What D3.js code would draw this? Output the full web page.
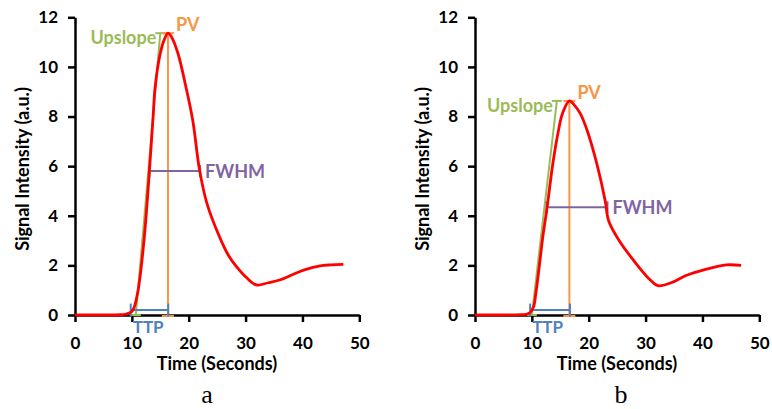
<html>
<head>
<script src="https://d3js.org/d3.v7.min.js"></script>
<style>
  body { margin: 0; background: #fff; }
  .tick text { font-family: Lato, sans-serif; font-weight: bold; font-size: 17px; fill: #000; }
  .title { font-family: Lato, sans-serif; font-weight: bold; font-size: 18px; fill: #000; }
  .note { font-family: Lato, sans-serif; font-weight: bold; font-size: 18px; }
  .caption { font-family: 'Liberation Serif', 'DejaVu Serif', serif; font-size: 26px; fill: #000; }
</style>
</head>
<body>
<svg id="chart" width="772" height="409"></svg>
<script>
// signal curves (time in seconds, signal in a.u.)
const timeA   = [0, 4, 8, 9, 9.5, 10, 10.4, 10.8, 11.2, 12.2, 13.1, 13.7, 14.1, 15.0, 15.7, 16.35, 17.0, 18.1, 19.5, 20.7, 21.9, 23.2, 25.4, 27.0, 28.4, 30.2, 31.9, 34.0, 36.0, 38.0, 40.2, 43.1, 45.0, 47.2];
const signalA = [0, 0, 0.01, 0.04, 0.08, 0.14, 0.3, 0.65, 1.14, 3.16, 5.85, 7.86, 9.2, 10.55, 11.1, 11.36, 11.2, 10.55, 9.2, 7.86, 5.85, 4.5, 3.16, 2.4, 1.95, 1.5, 1.21, 1.3, 1.41, 1.6, 1.81, 1.98, 2.02, 2.04];

const timeB   = [0, 4, 8, 9, 9.7, 10.3, 10.7, 11.3, 11.9, 12.7, 13.7, 14.7, 15.4, 16.6, 17.5, 18.5, 19.7, 21.4, 22.9, 23.5, 25.4, 28.0, 30.7, 32.2, 34.5, 37.1, 40.7, 44.2, 46.8];
const signalB = [0, 0, 0.01, 0.03, 0.1, 0.33, 0.87, 1.95, 3.1, 4.37, 6.12, 7.46, 8.13, 8.63, 8.45, 8.13, 7.46, 6.12, 4.6, 3.8, 2.98, 2.17, 1.44, 1.18, 1.3, 1.59, 1.85, 2.02, 2.0];

const xTicks = [0, 10, 20, 30, 40, 50];
const yTicks = [0, 2, 4, 6, 8, 10, 12];

// annotation marks: upslope [t0, v0, t1, v1], peak [t, v], ttp [t0, t1, v], fwhm [t0, t1, v]
const upslopeA = [10.7, 0, 15.0, 11.36];
const peakA    = [16.35, 11.36];
const ttpA     = [9.8, 16.4, 0.2];
const fwhmA    = [13.1, 22.0, 5.8];

const upslopeB = [10.0, 0, 14.4, 8.63];
const peakB    = [16.6, 8.63];
const ttpB     = [9.7, 16.7, 0.2];
const fwhmB    = [12.6, 23.3, 4.34];

const captions = ['a', 'b'];

const svg = d3.select('#chart');
const red = '#ff0000', green = '#9bbb59', orange = '#f79646', purple = '#8064a2', blue = '#4f81bd';

function drawPanel(left, capX, label, times, signal, upslope, peak, ttp, fwhm) {
  const x = d3.scaleLinear().domain([0, 50]).range([left, left + 284.3]);
  const y = d3.scaleLinear().domain([0, 12]).range([315, 17.3]);
  const g = svg.append('g');

  // axes
  g.append('g')
    .attr('transform', 'translate(' + left + ',0)')
    .call(d3.axisLeft(y).tickValues(yTicks).tickSize(7).tickSizeOuter(0).tickPadding(10));
  g.append('g')
    .attr('transform', 'translate(0,315)')
    .call(d3.axisBottom(x).tickValues(xTicks).tickSize(7).tickSizeOuter(0).tickPadding(15));
  g.selectAll('.domain, .tick line').attr('stroke', '#000').attr('stroke-width', 2.5);
  g.selectAll('.tick text').attr('font-family', null).attr('font-size', null);

  // axis titles
  g.append('text').attr('class', 'title')
    .attr('transform', 'translate(' + (left - 46) + ',169) rotate(-90)')
    .attr('text-anchor', 'middle')
    .text('Signal Intensity (a.u.)');
  g.append('text').attr('class', 'title')
    .attr('x', left + 142).attr('y', 370)
    .attr('text-anchor', 'middle')
    .text('Time (Seconds)');

  // upslope line with caps
  const ux0 = x(upslope[0]), uy0 = y(upslope[1]), ux1 = x(upslope[2]), uy1 = y(upslope[3]);
  const ann = g.append('g').attr('fill', 'none').attr('stroke-width', 2);
  ann.append('line').attr('x1', ux0).attr('y1', uy0).attr('x2', ux1).attr('y2', uy1).attr('stroke', green);
  ann.append('line').attr('x1', ux0 - 5).attr('x2', ux0 + 5).attr('y1', uy0).attr('y2', uy0).attr('stroke', green);
  ann.append('line').attr('x1', ux1 - 5).attr('x2', ux1 + 5).attr('y1', uy1).attr('y2', uy1).attr('stroke', green);

  // peak value
  const px = x(peak[0]), py = y(peak[1]);
  ann.append('line').attr('x1', px).attr('x2', px).attr('y1', y(0)).attr('y2', py).attr('stroke', orange);
  ann.append('line').attr('x1', px - 6).attr('x2', px + 6).attr('y1', py).attr('y2', py).attr('stroke', orange);
  ann.append('line').attr('x1', px - 6).attr('x2', px + 6).attr('y1', y(0) + 1).attr('y2', y(0) + 1).attr('stroke', orange);

  // time to peak
  const tx0 = x(ttp[0]), tx1 = x(ttp[1]), ty = y(ttp[2]);
  ann.append('line').attr('x1', tx0).attr('x2', tx1).attr('y1', ty).attr('y2', ty).attr('stroke', blue);
  [tx0, tx1].forEach(function(v) {
    ann.append('line').attr('x1', v).attr('x2', v).attr('y1', ty - 6.5).attr('y2', ty + 6.5).attr('stroke', blue);
  });

  // full width half max
  const fx0 = x(fwhm[0]), fx1 = x(fwhm[1]), fy = y(fwhm[2]);
  ann.append('line').attr('x1', fx0).attr('x2', fx1).attr('y1', fy).attr('y2', fy).attr('stroke', purple);
  [fx0, fx1].forEach(function(v) {
    ann.append('line').attr('x1', v).attr('x2', v).attr('y1', fy - 6).attr('y2', fy + 6).attr('stroke', purple);
  });

  // signal curve
  const line = d3.line()
    .x(function(d, i) { return x(times[i]); })
    .y(function(d) { return y(d); })
    .curve(d3.curveCatmullRom.alpha(0.5));
  g.append('path').datum(signal)
    .attr('d', line)
    .attr('fill', 'none')
    .attr('stroke', red)
    .attr('stroke-width', 2.8);

  // labels
  g.append('text').attr('class', 'note').attr('fill', green)
    .attr('x', ux1 - 4).attr('y', uy1 + 11).attr('text-anchor', 'end').text('Upslope');
  g.append('text').attr('class', 'note').attr('fill', orange)
    .attr('x', px + 8).attr('y', py - 2).text('PV');
  g.append('text').attr('class', 'note').attr('fill', purple)
    .attr('x', fx1 + 5).attr('y', fy + 6.5).text('FWHM');
  g.append('text').attr('class', 'note').attr('fill', blue)
    .attr('x', tx0 + 2).attr('y', ty + 23).style('font-size', '17px').text('TTP');

  // panel caption
  svg.append('text').attr('class', 'caption')
    .attr('x', capX).attr('y', 403).attr('text-anchor', 'middle').text(label);
}

drawPanel(75, 207, captions[0], timeA, signalA, upslopeA, peakA, ttpA, fwhmA);
drawPanel(475, 621, captions[1], timeB, signalB, upslopeB, peakB, ttpB, fwhmB);
</script>
</body>
</html>
